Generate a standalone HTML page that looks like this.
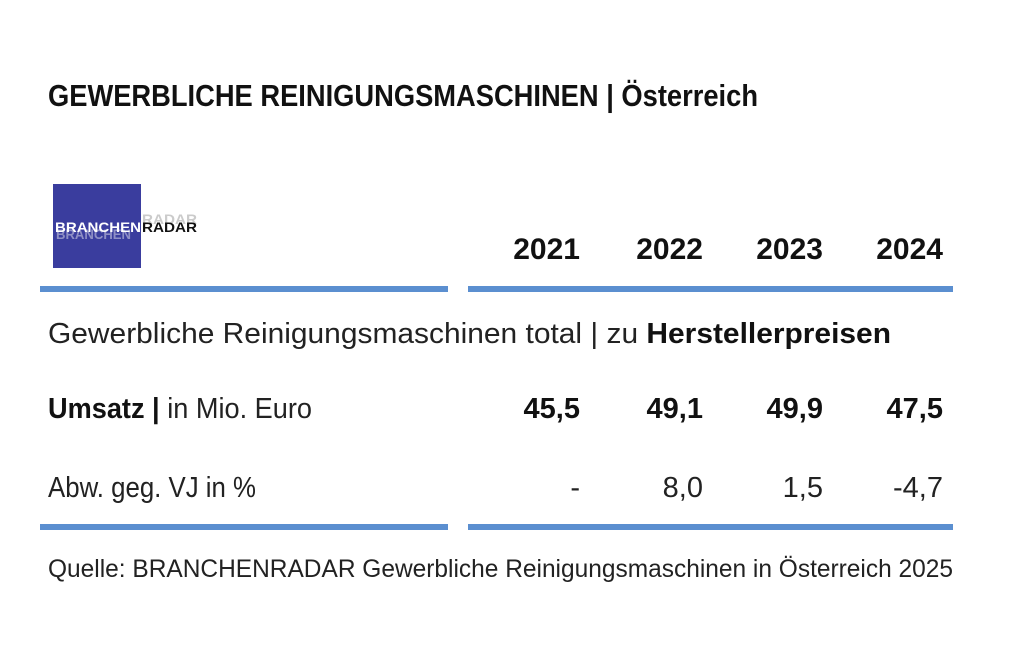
<!DOCTYPE html>
<html><head><meta charset="utf-8"><style>
html,body{margin:0;padding:0;background:#fff;}
svg{display:block;font-family:"Liberation Sans Narrow","Liberation Sans",sans-serif;}
</style></head><body>
<svg width="1024" height="658" viewBox="0 0 1024 658">
<text x="48" y="106" font-size="31" font-weight="bold" textLength="710" lengthAdjust="spacingAndGlyphs" fill="#111">GEWERBLICHE REINIGUNGSMASCHINEN | Österreich</text>
<g>
<rect x="53" y="184" width="88" height="84" fill="#3a3d9e"/>
<text x="56" y="239" font-size="14" font-weight="bold" fill="#c8c8e0" opacity="0.6" textLength="75" lengthAdjust="spacingAndGlyphs">BRANCHEN</text>
<text x="142" y="224" font-size="14" font-weight="bold" fill="#aaa" opacity="0.6" textLength="55" lengthAdjust="spacingAndGlyphs">RADAR</text>
<text x="55" y="232" font-size="14" font-weight="bold" fill="#fff" textLength="86" lengthAdjust="spacingAndGlyphs">BRANCHEN</text>
<text x="142" y="232" font-size="14" font-weight="bold" fill="#111" textLength="55" lengthAdjust="spacingAndGlyphs">RADAR</text>
</g>
<g id="years" font-size="30" font-weight="bold" fill="#111" text-anchor="end"></g>
<rect x="40" y="286" width="408" height="6" fill="#5b8fd0"/>
<rect x="468" y="286" width="485" height="6" fill="#5b8fd0"/>
<text x="48" y="343" font-size="29" fill="#222" textLength="843" lengthAdjust="spacingAndGlyphs">Gewerbliche Reinigungsmaschinen total | zu <tspan font-weight="bold" fill="#111">Herstellerpreisen</tspan></text>
<text x="48" y="418" font-size="29" fill="#222" textLength="264" lengthAdjust="spacingAndGlyphs"><tspan font-weight="bold" fill="#111">Umsatz |</tspan> in Mio. Euro</text>
<text x="48" y="497" font-size="29" fill="#222" textLength="208" lengthAdjust="spacingAndGlyphs">Abw. geg. VJ in %</text>
<g id="vals" font-size="29" font-weight="bold" fill="#111" text-anchor="end"></g>
<g id="chg" font-size="29" fill="#222" text-anchor="end"></g>
<rect x="40" y="524" width="408" height="6" fill="#5b8fd0"/>
<rect x="468" y="524" width="485" height="6" fill="#5b8fd0"/>
<text x="48" y="577" font-size="25" fill="#222" textLength="905" lengthAdjust="spacingAndGlyphs">Quelle: BRANCHENRADAR Gewerbliche Reinigungsmaschinen in Österreich 2025</text>
</svg>
<script>
const years=["2021","2022","2023","2024"];
const umsatz=["45,5","49,1","49,9","47,5"];
const change=["-","8,0","1,5","-4,7"];
const colX=[580,703,823,943];
const NS="http://www.w3.org/2000/svg";
function add(gid,arr,y,name){
  const g=document.getElementById(gid);
  arr.forEach((v,i)=>{
    const t=document.createElementNS(NS,"text");
    t.setAttribute("x",colX[i]);t.setAttribute("y",y);t.textContent=v;
    
    
    g.appendChild(t);
  });
}
add("years",years,259,"year-header");
add("vals",umsatz,418,"umsatz-value");
add("chg",change,497,"change-value");
</script>
</body></html>
